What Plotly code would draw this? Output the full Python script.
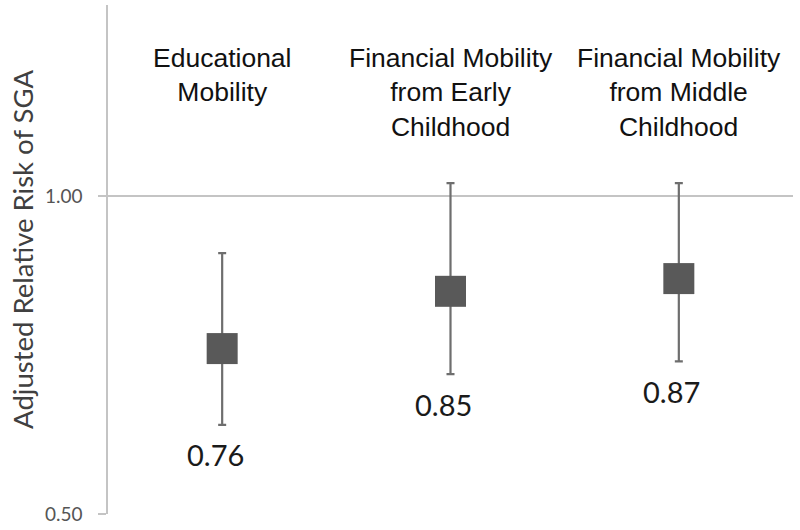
import plotly.graph_objects as go

categories = ["Educational<br>Mobility",
              "Financial Mobility<br>from Early<br>Childhood",
              "Financial Mobility<br>from Middle<br>Childhood"]
estimates = [0.76, 0.85, 0.87]
ci_lower = [0.64, 0.72, 0.74]
ci_upper = [0.91, 1.02, 1.02]
y_tickvals = [0.5, 1.0]
y_ticktext = ["0.50", "1.00"]
y_range = [0.5, 1.3]
ref_line = 1.0
y_title = "Adjusted Relative Risk of SGA"

err_plus = [u - e for u, e in zip(ci_upper, estimates)]
err_minus = [e - l for e, l in zip(estimates, ci_lower)]

fig = go.Figure()
fig.add_hline(y=ref_line, line=dict(color="#c4c4c4", width=2), layer="below")
fig.add_trace(go.Scatter(
    x=categories, y=estimates, mode="markers",
    marker=dict(symbol="square", size=31, color="#595959", line=dict(width=0)),
    error_y=dict(type="data", symmetric=False, array=err_plus, arrayminus=err_minus,
                 color="#6e6e6e", thickness=2.2, width=4),
    showlegend=False, hoverinfo="skip",
))

annotations = []
for c in categories:
    annotations.append(dict(
        x=c, xref="x", y=1, yref="paper", yanchor="top", yshift=-36,
        text=c, showarrow=False, align="center",
        font=dict(family="Liberation Sans, Arial", size=26.5, color="#111111"),
    ))
for c, e, lo in zip(categories, estimates, ci_lower):
    annotations.append(dict(
        x=c, xref="x", y=lo, yref="y", yanchor="middle", yshift=-30, xshift=-7,
        text=f"{e:.2f}", showarrow=False,
        font=dict(family="Lato", size=29, color="#1a1a1a"),
    ))
annotations.append(dict(
    x=-0.125, xref="paper", y=0.5, yref="paper", xanchor="center", yanchor="middle",
    yshift=10, text=y_title, textangle=-90, showarrow=False,
    font=dict(family="Lato", size=27.5, color="#404040"),
))

fig.update_layout(
    width=800, height=530,
    margin=dict(l=108, r=7, t=5, b=16),
    paper_bgcolor="white", plot_bgcolor="white",
    annotations=annotations,
    xaxis=dict(type="category", range=[-0.5, 2.5], showticklabels=False,
               showline=False, showgrid=False, zeroline=False, ticks=""),
    yaxis=dict(range=y_range, tickvals=y_tickvals, ticktext=y_ticktext,
               showgrid=False, zeroline=False, showline=True, linecolor="#c4c4c4",
               linewidth=1.5, ticks="outside", ticklen=8, tickcolor="#c4c4c4",
               tickwidth=1.5, ticklabelstandoff=12,
               tickfont=dict(family="Lato", size=19, color="#555555")),
)

fig.write_html("out.html", config={"displayModeBar": False},
               post_script="document.body.style.margin='0';")
